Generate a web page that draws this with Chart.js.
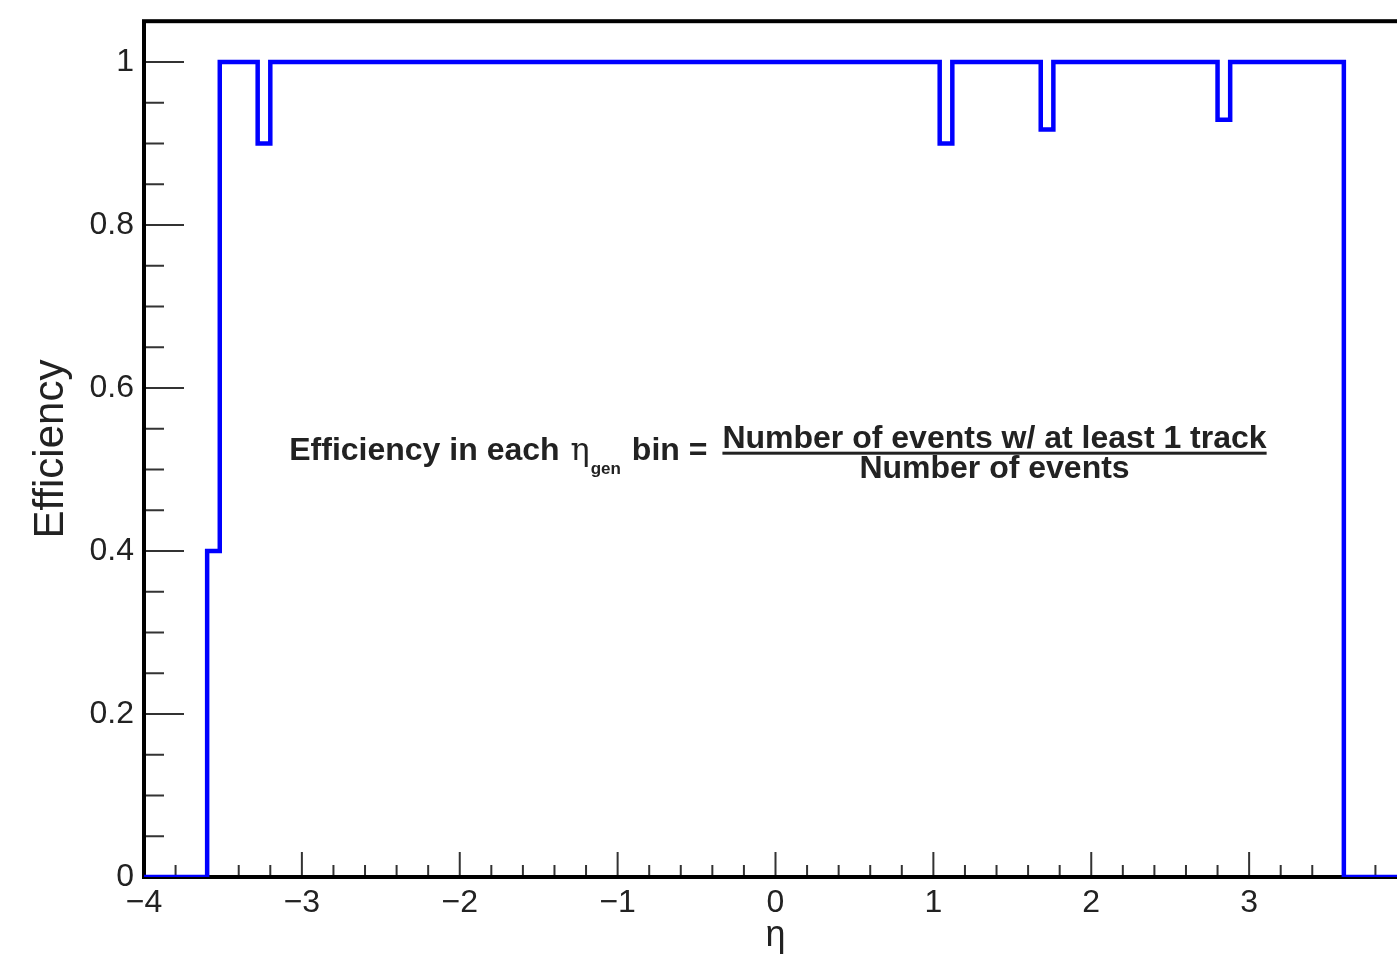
<!DOCTYPE html>
<html>
<head>
<meta charset="utf-8">
<script src="https://cdn.jsdelivr.net/npm/chart.js@4/dist/chart.umd.min.js"></script>
<style>
  html, body { margin: 0; padding: 0; background: #fff; overflow: hidden; }
  canvas { display: block; }
</style>
</head>
<body>
<canvas id="effChart" width="1421" height="954"></canvas>
<script>
// histogram binning (100 bins over -4..4)
const etaMin = -4;
const etaMax = 4;
const binWidth = 0.08;

// efficiency per eta bin
const efficiency = [
    0, 0, 0, 0, 0, 0.4, 1, 1, 1, 0.9,
    1, 1, 1, 1, 1, 1, 1, 1, 1, 1,
    1, 1, 1, 1, 1, 1, 1, 1, 1, 1,
    1, 1, 1, 1, 1, 1, 1, 1, 1, 1,
    1, 1, 1, 1, 1, 1, 1, 1, 1, 1,
    1, 1, 1, 1, 1, 1, 1, 1, 1, 1,
    1, 1, 1, 0.9, 1, 1, 1, 1, 1, 1,
    1, 0.917, 1, 1, 1, 1, 1, 1, 1, 1,
    1, 1, 1, 1, 1, 0.929, 1, 1, 1, 1,
    1, 1, 1, 1, 1, 0, 0, 0, 0, 0,
];

const xTitle = 'η';
const yTitle = 'Efficiency';
const noteLead = 'Efficiency in each ';
const noteSymbol = 'η';
const noteSub = 'gen';
const noteMid = 'bin =';
const noteNum = 'Number of events w/ at least 1 track';
const noteDen = 'Number of events';
const noteAt = { eta: -3.08, eff: 0.512 };

// step points at the left edge of each bin + closing point at the upper edge
const points = efficiency.map((v, i) => ({ x: etaMin + i * binWidth, y: v }));
points.push({ x: etaMax, y: efficiency[efficiency.length - 1] });

const fontFamily = '"Liberation Sans", Arial, sans-serif';

const frameTicks = {
    id: 'frameTicks',
    beforeDatasetsDraw(chart) {
        const { ctx, chartArea: a, scales: { x, y } } = chart;
        ctx.save();
        ctx.strokeStyle = '#333';
        ctx.lineWidth = 2;
        ctx.beginPath();
        for (let i = 0; i <= 40; i++) {
            const v = x.min + i * 0.2;
            const px = x.getPixelForValue(v);
            const len = i % 5 === 0 ? 25 : 12;
            ctx.moveTo(px, a.bottom);
            ctx.lineTo(px, a.bottom - len);
        }
        for (let i = 0; i <= 21; i++) {
            const v = i * 0.05;
            const py = y.getPixelForValue(v);
            const len = i % 4 === 0 ? 40 : 20;
            ctx.moveTo(a.left, py);
            ctx.lineTo(a.left + len, py);
        }
        ctx.stroke();
        ctx.strokeStyle = '#000';
        ctx.lineWidth = 4;
        ctx.strokeRect(a.left, a.top, a.right - a.left, a.bottom - a.top);
        ctx.restore();
    }
};

const formula = {
    id: 'formula',
    afterDraw(chart) {
        const { ctx, scales: { x, y } } = chart;
        let px = x.getPixelForValue(noteAt.eta);
        const base = y.getPixelForValue(noteAt.eff);
        ctx.save();
        ctx.fillStyle = '#222';
        ctx.textBaseline = 'alphabetic';
        ctx.textAlign = 'left';
        const bold = 'bold 32px ' + fontFamily;

        ctx.font = bold;
        ctx.fillText(noteLead, px, base);
        px += ctx.measureText(noteLead).width + 2;

        ctx.font = '32px "DejaVu Serif", serif';
        ctx.fillText(noteSymbol, px, base);
        px += ctx.measureText(noteSymbol).width + 1;

        ctx.font = 'bold 17px ' + fontFamily;
        ctx.fillText(noteSub, px, base + 14);
        px += ctx.measureText(noteSub).width + 11;

        ctx.font = bold;
        ctx.fillText(noteMid, px, base);
        px += ctx.measureText(noteMid).width + 15;

        const numW = ctx.measureText(noteNum).width;
        ctx.fillText(noteNum, px, base - 12);
        ctx.fillRect(px, base - 8, numW, 3);
        ctx.textAlign = 'center';
        ctx.fillText(noteDen, px + numW / 2, base + 18);
        ctx.restore();
    }
};

const ctx = document.getElementById('effChart').getContext('2d');
const effChart = new Chart(ctx, {
    type: 'line',
    data: {
        datasets: [{
            data: points,
            stepped: true,
            borderColor: '#0000ff',
            borderWidth: 4.5,
            borderJoinStyle: 'miter',
            pointRadius: 0,
            fill: false,
        }]
    },
    options: {
        responsive: false,
        animation: false,
        layout: { padding: { top: 18, right: 14, left: 0, bottom: 0 } },
        plugins: {
            legend: { display: false },
            tooltip: { enabled: false },
        },
        scales: {
            x: {
                type: 'linear',
                min: etaMin,
                max: etaMax,
                grid: { display: false },
                border: { display: false },
                ticks: {
                    stepSize: 1,
                    padding: 2,
                    color: '#222',
                    font: { family: fontFamily, size: 32, lineHeight: 1 },
                    callback: v => String(v).replace('-', '\u2212'),
                },
                title: {
                    display: true,
                    text: xTitle,
                    color: '#222',
                    font: { family: fontFamily, size: 36, lineHeight: 1 },
                    padding: { top: 0, bottom: 0 },
                },
                afterFit: s => { s.height = 77; },
            },
            y: {
                min: 0,
                max: 1.05,
                grid: { display: false },
                border: { display: false },
                ticks: {
                    stepSize: 0.2,
                    includeBounds: false,
                    padding: 2,
                    color: '#222',
                    font: { family: fontFamily, size: 32 },
                    callback: v => String(Math.round(v * 10) / 10),
                },
                title: {
                    display: true,
                    text: yTitle,
                    color: '#222',
                    font: { family: fontFamily, size: 42, lineHeight: 1 },
                    padding: { top: 30, bottom: 0 },
                },
                afterFit: s => { s.width = 144; },
            }
        }
    },
    plugins: [frameTicks, formula],
});
</script>
</body>
</html>
